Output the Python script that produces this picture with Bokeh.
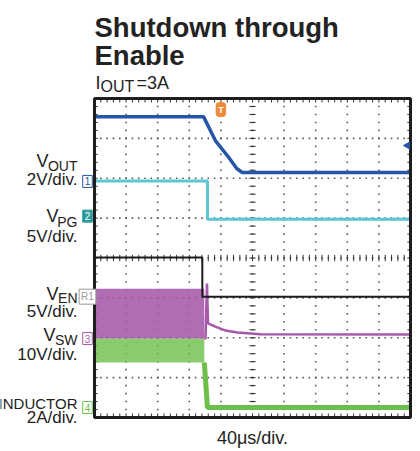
import numpy as np
from bokeh.plotting import figure
from bokeh.models import Range1d, Label
from bokeh.embed import file_html
from bokeh.resources import INLINE

# ---------------- data ----------------
US_PER_DIV = 40            # 40 us/div
N_XDIV, N_YDIV = 10, 8

# channel scales (units per division) and ground marker positions (divisions from bottom)
scale_vout, gnd_vout = 2.0, 5.97
scale_vpg, gnd_vpg = 5.0, 4.97
scale_ven, gnd_ven = 5.0, 3.03
scale_vsw, gnd_vsw = 10.0, 1.98
scale_il, gnd_il = 2.0, 0.25

# V_OUT (V)
vout_t = [0, 138, 153, 170, 180, 187, 400]
vout_v = [3.15, 3.15, 1.95, 1.10, 0.55, 0.35, 0.35]
# V_PG (V)
vpg_t = [0, 143, 143, 400]
vpg_v = [4.8, 4.8, 0.0, 0.0]
# V_EN (V)
ven_t = [0, 136.5, 136.5, 400]
ven_v = [4.9, 4.9, 0.0, 0.0]
# V_SW: switching envelope before shutdown, then decay (V)
vsw_band_t = [0, 139]
vsw_band_lo = [0.0, 0.0]
vsw_band_hi = [12.5, 12.5]
vsw_t = [139, 140.5, 142.4, 143.7, 153, 166, 181, 210, 400]
vsw_v = [0.0, 0.0, 13.8, 3.8, 3.0, 2.0, 1.5, 1.1, 1.0]
# inductor current: ripple envelope before shutdown, then zero (A)
il_band_t = [0, 139]
il_band_lo = [2.26, 2.26]
il_band_hi = [3.46, 3.46]
il_t = [139, 143, 400]
il_a = [2.26, 0.0, 0.0]

# ---------------- helpers ----------------
def to_div(vals, scale, gnd):
    return [gnd + v / scale for v in vals]

# reference-pixel helpers for annotation placement
def X(px):
    return (px - 94) * US_PER_DIV / 31.6

def Y(py):
    return (417 - py) / 39.875

FONT = "Liberation Sans"
W, H = 418, 449

# the whole canvas is the frame; the scope screen is drawn as a box inside it
p = figure(width=W, height=H, output_backend="svg", toolbar_location=None,
           x_range=Range1d(X(0), X(W)), y_range=Range1d(Y(H), Y(0)),
           x_axis_location=None, y_axis_location=None,
           min_border_left=0, min_border_right=0, min_border_top=0, min_border_bottom=0)
p.outline_line_color = None
p.xgrid.visible = False
p.ygrid.visible = False
p.background_fill_color = "white"
p.border_fill_color = "white"

XR = N_XDIV * US_PER_DIV

# ---------------- graticule ----------------
gx, gy = [], []
for k in range(1, N_XDIV):
    for j in range(N_YDIV * 5 + 1):
        gx.append(k * US_PER_DIV); gy.append(j * 0.2)
for k in range(1, N_YDIV):
    for j in range(N_XDIV * 5 + 1):
        gx.append(j * US_PER_DIV / 5); gy.append(k)
p.scatter(gx, gy, marker="square", size=1.6, color="#5a5a5a", line_color=None)

cx = N_XDIV / 2 * US_PER_DIV
cy = N_YDIV / 2
ty = [j * 0.2 for j in range(N_YDIV * 5 + 1)]
tx = [j * US_PER_DIV / 5 for j in range(N_XDIV * 5 + 1)]
tick_kw = dict(line_color="#333", line_width=1)
p.segment(x0=[cx - 4] * len(ty), y0=ty, x1=[cx + 4] * len(ty), y1=ty, **tick_kw)
p.segment(x0=tx, y0=[cy - 0.08] * len(tx), x1=tx, y1=[cy + 0.08] * len(tx), **tick_kw)
p.segment(x0=tx, y0=[0] * len(tx), x1=tx, y1=[0.1] * len(tx), **tick_kw)
p.segment(x0=tx, y0=[N_YDIV] * len(tx), x1=tx, y1=[N_YDIV - 0.1] * len(tx), **tick_kw)
p.segment(x0=[0] * len(ty), y0=ty, x1=[4] * len(ty), y1=ty, **tick_kw)
p.segment(x0=[XR] * len(ty), y0=ty, x1=[XR - 4] * len(ty), y1=ty, **tick_kw)

# ---------------- traces ----------------
C_VOUT = "#2756a8"
C_VPG = "#5cc6d2"
C_VEN = "#1c1c1c"
C_VSW = "#a659a8"
C_IL = "#6cbf48"

p.varea(x=il_band_t, y1=to_div(il_band_lo, scale_il, gnd_il), y2=to_div(il_band_hi, scale_il, gnd_il),
        fill_color=C_IL, fill_alpha=0.8)
p.line(il_t, to_div(il_a, scale_il, gnd_il), line_color=C_IL, line_width=5)
p.varea(x=vsw_band_t, y1=to_div(vsw_band_lo, scale_vsw, gnd_vsw), y2=to_div(vsw_band_hi, scale_vsw, gnd_vsw),
        fill_color=C_VSW, fill_alpha=0.88)
p.line(vsw_t, to_div(vsw_v, scale_vsw, gnd_vsw), line_color=C_VSW, line_width=2.5)
p.line(ven_t, to_div(ven_v, scale_ven, gnd_ven), line_color=C_VEN, line_width=2)
p.line(vpg_t, to_div(vpg_v, scale_vpg, gnd_vpg), line_color=C_VPG, line_width=3)
p.line(vout_t, to_div(vout_v, scale_vout, gnd_vout), line_color=C_VOUT, line_width=3.5)

# screen frame
p.quad(left=[0], right=[XR], bottom=[0], top=[N_YDIV], fill_color=None,
       line_color="#1e1e1e", line_width=3)

# right-side offset arrow for CH1
p.scatter([X(407)], [Y(145)], marker="triangle", angle=np.pi / 2, size=7, color=C_VOUT)

# ---------------- annotations ----------------
def lab(x, y, text, size, align="left", color="#222", style="normal", baseline="alphabetic", **kw):
    p.add_layout(Label(x=x, y=y, text=text, text_font=FONT, text_font_size=f"{size}px",
                       text_align=align, text_color=color, text_font_style=style,
                       text_baseline=baseline, **kw))

# title
lab(X(94), Y(27), "Shutdown through", 27.5, style="bold")
lab(X(94), Y(55), "Enable", 27.5, style="bold")
lab(X(95), Y(82), "I", 18)
lab(X(100), Y(86), "OUT", 16)
lab(X(136), Y(82), "=3A", 18)

# channel labels
chan = [
    ("V", "OUT", "2V/div.", 48, 160, 165, 179),
    ("V", "PG", "5V/div.", 58, 215, 221, 236),
    ("V", "EN", "5V/div.", 58, 293, 297, 311),
    ("V", "SW", "10V/div.", 55, 334, 339, 354),
]
for main, sub, sc, vx, yb, ysb, ysc in chan:
    lab(X(vx), Y(yb), main, 18, align="right")
    lab(X(77), Y(ysb), sub, 14, align="right")
    lab(X(77), Y(ysc), sc, 17, align="right")
lab(X(77), Y(403), "INDUCTOR", 15, align="right")
lab(X(77), Y(417), "2A/div.", 17, align="right")

# x-scale label
lab(N_XDIV / 2 * US_PER_DIV, Y(437), "40\u03bcs/div.", 18, align="center")

# channel ground markers
markers = [
    ("1", gnd_vout - 0.05, "white", C_VOUT, C_VOUT),
    ("2", gnd_vpg + 0.08, "#2a9a9c", "white", "#2a9a9c"),
    ("R1", gnd_ven, "white", "#999999", "#999999"),
    ("3", gnd_vsw, "white", C_VSW, C_VSW),
    ("4", gnd_il, "white", C_IL, C_IL),
]
for txt, yy, bg, tc, bc in markers:
    p.add_layout(Label(x=X(87), y=yy, text=txt, text_font=FONT, text_font_size="10px",
                       text_align="center", text_baseline="middle", text_color=tc,
                       background_fill_color=bg, border_line_color=bc, border_line_width=1,
                       padding=2))

# trigger marker
p.add_layout(Label(x=cx - US_PER_DIV, y=Y(109), text="T", text_font=FONT,
                   text_font_size="9px", text_font_style="bold", text_align="center",
                   text_baseline="middle", text_color="white", background_fill_color="#f08a38",
                   border_line_color="#f08a38", padding=2, border_radius=3))

open("out.html", "w").write(file_html(p, INLINE))
